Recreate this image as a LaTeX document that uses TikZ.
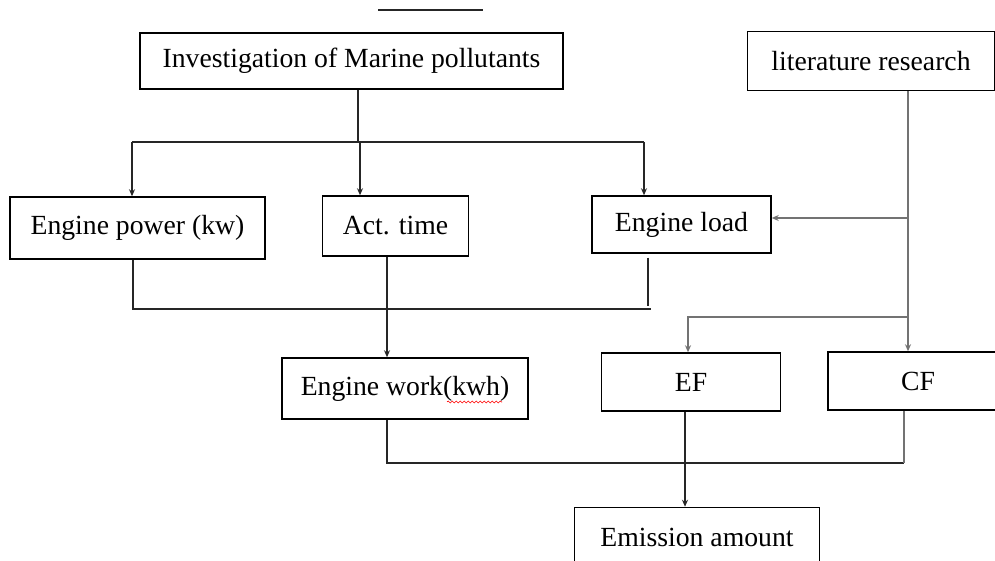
\documentclass[tikz,border=0pt]{standalone}
\usepackage{fontspec}
\setmainfont{Liberation Serif}
\usetikzlibrary{positioning}
\usetikzlibrary{arrows.meta}
\usetikzlibrary{decorations.pathmorphing}

\begin{document}
\begin{tikzpicture}[x=0.5pt,y=-0.5pt]

		\tikzset{line/.style={draw,line width=0.8pt,black!85}}
		\tikzset{arrow/.style={line,-{Stealth[length=3.5pt,width=3pt]}}}
		\tikzset{gline/.style={draw,line width=1.2pt,black!55}}
		\tikzset{garrow/.style={gline,-{Stealth[length=3.5pt,width=3pt]}}}
		\tikzset{box/.style={draw,line width=0.75pt,inner sep=0pt,font=\fontsize{13.85}{16}\selectfont}}
		\tikzset{wave/.style={draw,red,line width=0.3pt,decorate,decoration={snake,amplitude=0.5pt,segment length=2pt}}}

		\fill[white] (0,0) rectangle (995,561);
		\useasboundingbox (0,0) rectangle (995,561);

		% boxes
		\node[box,minimum width=211.5pt,minimum height=28pt] (inv) at (351.5,61) {Investigation of Marine pollutants};
		\node[box,minimum width=123.5pt,minimum height=29.5pt,right=91.5pt of inv] (lit) {literature research};

		\node[box,minimum width=127.5pt,minimum height=31pt] (power) at (137.5,228) {Engine power (kw)};
		\node[box,minimum width=73pt,minimum height=30pt,right=28pt of power,yshift=1pt] (act) {Act. time};
		\node[box,minimum width=89.5pt,minimum height=28.5pt,right=61pt of act,yshift=0.75pt] (load) {Engine load};

		\node[box,minimum width=123pt,minimum height=30.5pt] (work) at (405,388.5) {Engine work(kwh)};
		\node[box,minimum width=89.5pt,minimum height=29pt,right=36pt of work,yshift=3.25pt] (ef) {EF};
		\node[box,minimum width=90pt,minimum height=29pt,right=23pt of ef,yshift=0.5pt] (cf) {CF};
		\node[box,minimum width=122.5pt,minimum height=30pt,below=47.5pt of ef,xshift=3pt] (em) {Emission amount};

		% junctions
		\coordinate (s1) at (378,10);
		\coordinate (s2) at (483,10);
		\coordinate (j) at (358,142);
		\coordinate (t1) at (132,142);
		\coordinate (t2) at (360,142);
		\coordinate (t3) at (644,142);
		\coordinate (l1) at (908,218);
		\coordinate (l2) at (908,317);
		\coordinate (e1) at (688,317);
		\coordinate (b1) at (133,309);
		\coordinate (b2) at (651,309);
		\coordinate (b3) at (648,309);
		\coordinate (a1) at (387,309);
		\coordinate (c1) at (387,463);
		\coordinate (c2) at (904,463);
		\coordinate (d1) at (685,463);
		\coordinate (w1) at ([shift={(42,13.5)}]work.center);
		\coordinate (w2) at ([shift={(97,13.5)}]work.center);

		\path[line] (s1) to (s2);
		\path[wave] (w1) to (w2);

		\path[line] (inv.south -| j) to (j);
		\path[line] (t1) to (t3);
		\path[arrow] (t1) to (t1 |- power.north);
		\path[arrow] (t2) to (t2 |- act.north);
		\path[arrow] (t3) to (t3 |- load.north);

		\path[gline] (lit.south -| l2) to (l2);
		\path[garrow] (l1) to (l1 -| load.east);
		\path[garrow] (l2) -- (e1) -- (e1 |- ef.north);
		\path[garrow] (l2) to (l2 |- cf.north);

		\path[line] (power.south -| b1) -- (b1) -- (b2);
		\path[line, shorten <=2pt, shorten >=1.5pt] (load.south -| b3) to (b3);
		\path[arrow] (act.south -| a1) to (a1 |- work.north);

		\path[line] (work.south -| c1) -- (c1) -- (c2);
		\path[gline] (cf.south -| c2) to (c2);
		\path[arrow] (ef.south -| d1) to (d1 |- em.north);

	\end{tikzpicture}
\end{document}
